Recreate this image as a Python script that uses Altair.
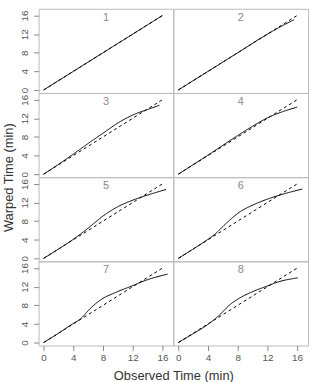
import altair as alt
import pandas as pd

panels = [1, 2, 3, 4, 5, 6, 7, 8]

warp_x = {
    1: [0, 4, 8, 12, 16],
    2: [0, 4, 8, 12, 14, 15.6],
    3: [0, 2, 4, 6, 8, 10, 12, 14, 15.6],
    4: [0, 4, 8, 10, 12, 14, 16],
    5: [0, 2, 4, 6, 8, 10, 12, 14, 16.5],
    6: [0, 2, 4, 5, 6.5, 8.3, 10.1, 12.3, 14.1, 16.7],
    7: [0, 2, 4, 4.9, 6.4, 7.8, 9.6, 11.8, 13.8, 16.7],
    8: [0, 2, 3.9, 5.4, 7.0, 8.3, 10.1, 11.9, 13.4, 16.1],
}
warp_y = {
    1: [0, 4, 8, 12, 16],
    2: [0, 4, 8, 12, 13.8, 15.1],
    3: [0, 2.1, 4.3, 6.6, 8.8, 11.0, 12.7, 13.9, 14.8],
    4: [0, 4.1, 8.3, 10.3, 12.1, 13.4, 14.4],
    5: [0, 2, 4.1, 6.5, 9.1, 11.1, 12.5, 13.6, 14.8],
    6: [0, 2, 4.1, 5.3, 7.6, 10.0, 11.5, 12.9, 13.8, 14.9],
    7: [0, 2, 4.1, 5.0, 7.5, 9.3, 10.7, 12.1, 13.4, 14.7],
    8: [0, 1.9, 3.8, 5.7, 8.2, 9.6, 11.0, 12.1, 13.0, 13.9],
}
ident_x = [0, 16]
ident_y = [0, 16]
tick_vals = [0, 4, 8, 12, 16]
x_title = "Observed Time (min)"
y_title = "Warped Time (min)"

rows = []
for p in panels:
    for i, (x, y) in enumerate(zip(warp_x[p], warp_y[p])):
        rows.append({"panel": p, "kind": "warp", "x": x, "y": y, "i": i})
    for i, (x, y) in enumerate(zip(ident_x, ident_y)):
        rows.append({"panel": p, "kind": "ident", "x": x, "y": y, "i": i})
df = pd.DataFrame(rows)

FONT = "Liberation Sans"
W, H = 136, 85
common = dict(grid=False, domain=False, tickSize=5, tickColor="#888",
              labelColor="#555", labelFontSize=10, labelFont=FONT,
              titleFont=FONT, titleFontSize=13, titleFontWeight="normal",
              titleColor="#333")


def make_xaxis(with_title):
    if with_title:
        return alt.Axis(values=tick_vals, title=x_title, titleX=W, titleAlign="center",
                        titlePadding=7, labelPadding=2, **common)
    return alt.Axis(values=tick_vals, title=None, labelPadding=2, **common)


def make_yaxis(with_title):
    kw = dict(values=tick_vals, labelAngle=270, labelAlign="center",
              labelBaseline="bottom", labelPadding=4, **common)
    if with_title:
        return alt.Axis(title=y_title, titleY=0, titleAlign="center", titlePadding=4, **kw)
    return alt.Axis(title=None, **kw)


def panel(idx):
    p = panels[idx]
    r, c = divmod(idx, 2)
    xscale = alt.Scale(domain=[-0.67, 17.47], nice=False, zero=False)
    yscale = alt.Scale(domain=[-0.64, 17.45], nice=False, zero=False)
    xax = make_xaxis(idx == 6) if r == 3 else None
    yax = make_yaxis(idx == 4) if c == 0 else None
    base = alt.Chart(df).transform_filter(alt.datum.panel == p)
    lines = base.mark_line(color="black", strokeWidth=1, interpolate="monotone").encode(
        x=alt.X("x:Q", scale=xscale, axis=xax),
        y=alt.Y("y:Q", scale=yscale, axis=yax),
        detail="kind:N",
        order="i:Q",
        strokeDash=alt.StrokeDash("kind:N", scale=alt.Scale(domain=["warp", "ident"],
                                                            range=[[1, 0], [3, 3]]), legend=None),
    )
    label = base.transform_filter(
        (alt.datum.kind == "ident") & (alt.datum.i == 0)
    ).mark_text(font=FONT, fontSize=11, color="#888", baseline="middle", align="center").encode(
        x=alt.value(W / 2), y=alt.value(9), text="panel:N"
    )
    return alt.layer(lines, label).properties(width=W, height=H)


chart = alt.concat(*[panel(i) for i in range(8)], columns=2, spacing=0, bounds="flush").properties(
    padding={"left": 2, "top": 6, "right": 2, "bottom": 2}
).configure_view(stroke="#bbb", strokeWidth=1)

chart.save("out.html", embed_options={"renderer": "svg", "actions": False})
